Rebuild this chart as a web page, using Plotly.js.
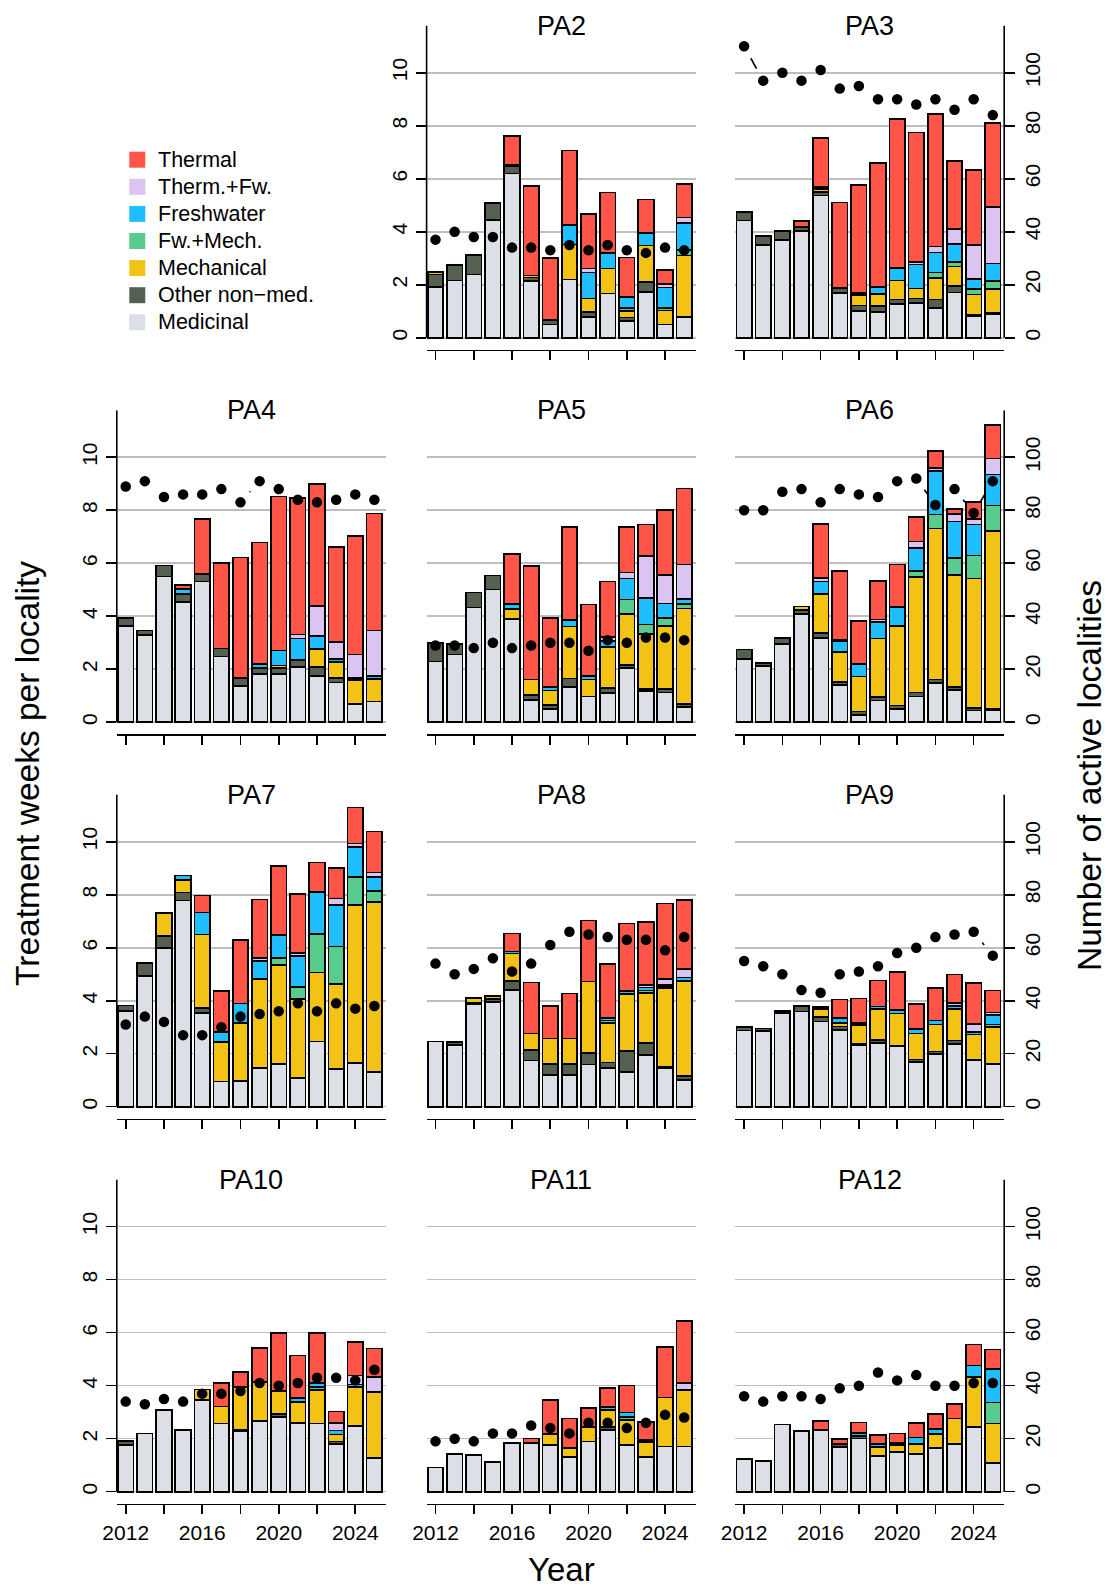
<!DOCTYPE html>
<html>
<head>
<meta charset="utf-8">
<script src="https://cdn.plot.ly/plotly-3.0.1.min.js"></script>
<style>
  html, body { margin: 0; padding: 0; background: #fff; }
  #chart { width: 1109px; height: 1587px; }
</style>
</head>
<body>
<div id="chart"></div>
<script>
// ---- data -------------------------------------------------------------
const years = [2012, 2013, 2014, 2015, 2016, 2017, 2018, 2019, 2020, 2021, 2022, 2023, 2024, 2025];
const panelNames = ["PA2", "PA3", "PA4", "PA5", "PA6", "PA7", "PA8", "PA9", "PA10", "PA11", "PA12"];

// stack order, bottom to top
const categories = ["Medicinal", "Other non\u2212med.", "Mechanical", "Fw.+Mech.", "Freshwater", "Therm.+Fw.", "Thermal"];
const categoryColors = ["#dcdfe6", "#566050", "#f2c315", "#57cc8c", "#1fbeff", "#dcc4f2", "#ff5448"];

// treatment weeks per locality, one row per production area (PA2 ... PA12)
const medicinal = [
  [1.92, 2.16, 2.39, 4.44, 6.20, 2.15, 0.50, 2.20, 0.77, 1.67, 0.64, 1.72, 0.50, 0.77],
  [4.42, 3.51, 3.70, 4.03, 5.37, 1.69, 1.02, 0.96, 1.27, 1.31, 1.11, 1.71, 0.82, 0.89],
  [3.64, 3.30, 5.50, 4.55, 5.31, 2.48, 1.36, 1.81, 1.81, 2.10, 1.76, 1.50, 0.69, 0.78],
  [2.30, 2.56, 4.33, 5.01, 3.89, 0.84, 0.50, 1.32, 0.97, 1.10, 2.05, 1.17, 1.12, 0.57],
  [2.38, 2.13, 2.96, 4.09, 3.17, 1.41, 0.28, 0.82, 0.50, 0.97, 1.47, 1.22, 0.44, 0.47],
  [3.62, 4.92, 5.99, 7.78, 3.53, 0.95, 0.98, 1.45, 1.61, 1.07, 2.46, 1.42, 1.64, 1.30],
  [2.46, 2.33, 3.87, 3.95, 4.41, 1.74, 1.20, 1.20, 1.59, 1.45, 1.31, 1.95, 1.45, 1.02],
  [2.88, 2.85, 3.53, 3.59, 3.22, 2.89, 2.31, 2.40, 2.30, 1.68, 1.98, 2.36, 1.77, 1.60],
  [1.76, 2.20, 3.08, 2.33, 3.46, 2.57, 2.29, 2.68, 2.82, 2.59, 2.57, 1.79, 2.49, 1.27],
  [0.91, 1.42, 1.38, 1.11, 1.85, 1.85, 1.77, 1.31, 1.89, 2.33, 1.76, 1.32, 1.71, 1.71],
  [1.23, 1.17, 2.54, 2.29, 2.33, 1.70, 2.01, 1.35, 1.51, 1.41, 1.64, 1.80, 2.45, 1.07]
];
const otherNonMed = [
  [0.47, 0.59, 0.73, 0.63, 0.28, 0.12, 0.16, 0, 0.19, 0, 0.12, 0.38, 0, 0],
  [0.33, 0.33, 0.33, 0.15, 0.12, 0.18, 0.20, 0.23, 0.17, 0.17, 0.33, 0.24, 0.04, 0.03],
  [0.30, 0.16, 0.42, 0.30, 0.28, 0.31, 0.30, 0.25, 0.23, 0.24, 0.32, 0.18, 0, 0],
  [0.70, 0.40, 0.57, 0.53, 0, 0.20, 0.15, 0.33, 0, 0.20, 0.10, 0.10, 0.14, 0.13],
  [0.37, 0.10, 0.21, 0.15, 0.20, 0.12, 0.13, 0.14, 0.13, 0.15, 0.14, 0.12, 0.10, 0.05],
  [0.20, 0.50, 0.44, 0.30, 0.20, 0, 0, 0, 0, 0, 0, 0, 0, 0],
  [0, 0.12, 0.05, 0.12, 0.33, 0.40, 0.40, 0.40, 0.44, 0.22, 0.79, 0.45, 0.06, 0.13],
  [0.12, 0.10, 0.08, 0.20, 0.17, 0.14, 0.05, 0.12, 0, 0.10, 0.10, 0.14, 0, 0],
  [0.15, 0, 0, 0, 0, 0, 0.05, 0, 0.10, 0, 0, 0.10, 0, 0],
  [0, 0, 0, 0, 0, 0, 0, 0, 0, 0.10, 0, 0, 0, 0],
  [0, 0, 0, 0, 0, 0.10, 0.08, 0, 0, 0, 0, 0, 0, 0]
];
const mechanical = [
  [0.08, 0, 0, 0, 0.06, 0.08, 0, 1.32, 0.52, 0.94, 0.25, 1.38, 0.53, 2.33],
  [0, 0, 0, 0, 0.13, 0, 0.38, 0.47, 0.72, 0.38, 0.80, 0.74, 0.77, 0.93],
  [0, 0, 0, 0, 0, 0, 0, 0, 0.10, 0, 0.68, 0.60, 0.91, 0.86],
  [0, 0, 0, 0, 0.38, 0.57, 0.55, 1.96, 0.65, 1.53, 1.95, 2.05, 2.37, 3.60],
  [0, 0, 0, 0.13, 1.46, 1.11, 1.32, 2.20, 3.00, 4.37, 5.70, 4.23, 4.89, 6.71],
  [0, 0, 0.88, 0.47, 2.77, 1.50, 2.18, 3.38, 3.74, 3.00, 2.60, 3.20, 5.96, 6.42],
  [0, 0, 0.18, 0.10, 1.04, 0.62, 0.97, 0.97, 2.70, 1.50, 2.14, 1.90, 2.95, 3.60],
  [0, 0, 0, 0, 0.30, 0.12, 0.72, 1.18, 1.22, 0.98, 1.02, 1.18, 0.96, 1.40],
  [0, 0, 0, 0, 0.40, 0.64, 1.60, 1.45, 0.88, 0.80, 1.27, 0.27, 1.47, 2.50],
  [0, 0, 0, 0, 0, 0, 0.40, 0.35, 0.55, 0.65, 0.94, 0.55, 1.84, 2.14],
  [0, 0, 0, 0, 0, 0, 0, 0.34, 0.24, 0.40, 0.54, 0.96, 1.87, 1.50]
];
const fwMech = [
  [0, 0, 0, 0, 0, 0, 0, 0, 0, 0, 0.10, 0, 0.09, 0.21],
  [0, 0, 0, 0, 0, 0, 0.03, 0, 0, 0, 0.22, 0.17, 0.20, 0.28],
  [0, 0, 0, 0, 0, 0, 0, 0, 0, 0, 0, 0, 0, 0],
  [0, 0, 0, 0, 0, 0, 0, 0, 0, 0, 0.53, 0.37, 0.30, 0.16],
  [0, 0, 0, 0, 0, 0, 0, 0, 0, 0.23, 0.53, 0.64, 0.87, 0.95],
  [0, 0, 0, 0, 0, 0, 0, 0, 0.25, 0.44, 1.45, 1.43, 1.08, 0.42],
  [0, 0, 0, 0, 0, 0, 0, 0, 0, 0.08, 0, 0.08, 0.05, 0],
  [0, 0, 0, 0, 0, 0, 0, 0, 0, 0, 0, 0, 0, 0.10],
  [0, 0, 0, 0, 0, 0, 0, 0, 0, 0, 0.10, 0, 0, 0],
  [0, 0, 0, 0, 0, 0, 0, 0, 0, 0, 0.12, 0, 0, 0],
  [0, 0, 0, 0, 0, 0, 0, 0, 0, 0, 0, 0, 0, 0.80]
];
const freshwater = [
  [0, 0, 0, 0, 0, 0, 0, 0.72, 0.98, 0.59, 0.42, 0.48, 0.77, 1.02],
  [0, 0, 0, 0, 0, 0, 0.05, 0.25, 0.47, 0.90, 0.76, 0.68, 0.38, 0.67],
  [0, 0, 0, 0.18, 0, 0, 0, 0.15, 0.57, 0.82, 0.50, 0.12, 0.08, 0.12],
  [0, 0, 0, 0, 0.20, 0, 0.12, 0.24, 0.13, 0.25, 0.80, 1.01, 0.55, 0.19],
  [0, 0, 0, 0, 0.48, 0.43, 0.48, 0.62, 0.72, 0.87, 1.64, 1.37, 1.16, 1.17],
  [0, 0, 0, 0.18, 0.83, 0.38, 0.73, 0.67, 0.88, 1.17, 1.60, 1.57, 1.12, 0.54],
  [0, 0, 0, 0, 0.08, 0, 0, 0, 0, 0.10, 0.12, 0.12, 0.07, 0.12],
  [0, 0, 0, 0, 0, 0.20, 0.08, 0.08, 0.12, 0.18, 0.15, 0.12, 0.10, 0.35],
  [0, 0, 0, 0, 0, 0, 0, 0, 0, 0.15, 0.16, 0.15, 0.08, 0],
  [0, 0, 0, 0, 0, 0, 0, 0, 0, 0.12, 0.17, 0.08, 0, 0],
  [0, 0, 0, 0, 0, 0, 0.12, 0.12, 0.10, 0.24, 0.18, 0, 0.44, 1.27]
];
const thermFw = [
  [0, 0, 0, 0, 0, 0, 0, 0, 0.15, 0, 0, 0, 0.13, 0.21],
  [0, 0, 0, 0, 0.06, 0, 0, 0, 0, 0.10, 0.22, 0.55, 1.30, 2.12],
  [0, 0, 0, 0, 0, 0, 0, 0, 0, 0.15, 1.12, 0.62, 0.88, 1.70],
  [0, 0, 0, 0, 0, 0, 0, 0, 0, 0.14, 0.22, 1.58, 1.07, 1.30],
  [0, 0, 0, 0, 0.13, 0.05, 0, 0.10, 0, 0.23, 0.12, 0.27, 0.22, 0.60],
  [0, 0, 0, 0, 0, 0, 0, 0.10, 0, 0.13, 0, 0.24, 0.13, 0.16],
  [0, 0, 0, 0, 0, 0, 0, 0, 0, 0, 0, 0.10, 0.25, 0.33],
  [0, 0, 0, 0, 0, 0, 0, 0, 0, 0, 0, 0.12, 0.29, 0.10],
  [0, 0, 0, 0, 0, 0, 0, 0, 0, 0, 0, 0.29, 0.35, 0.56],
  [0, 0, 0, 0, 0, 0, 0, 0, 0, 0, 0, 0, 0, 0.25],
  [0, 0, 0, 0, 0, 0, 0, 0, 0, 0, 0, 0, 0, 0]
];
const thermal = [
  [0, 0, 0, 0, 1.07, 3.37, 2.34, 2.82, 2.05, 2.28, 1.50, 1.25, 0.54, 1.27],
  [0, 0, 0, 0.22, 1.85, 3.23, 4.08, 4.69, 5.62, 4.88, 4.99, 2.57, 2.81, 3.17],
  [0, 0, 0, 0.15, 2.08, 3.21, 4.56, 4.57, 5.81, 5.16, 4.60, 3.60, 4.47, 4.42],
  [0, 0, 0, 0, 1.89, 4.28, 2.61, 3.51, 2.70, 2.09, 1.71, 1.18, 2.47, 2.87],
  [0, 0, 0, 0, 2.05, 2.58, 1.60, 1.45, 1.61, 0.94, 0.64, 0.20, 0.64, 1.28],
  [0, 0, 0, 0, 0.64, 1.53, 2.40, 2.22, 2.60, 2.21, 1.11, 1.15, 1.36, 1.54],
  [0, 0, 0, 0, 0.68, 1.93, 1.24, 1.70, 2.30, 2.04, 2.55, 2.36, 2.84, 2.61],
  [0, 0, 0, 0, 0.08, 0.69, 0.92, 0.98, 1.45, 0.93, 1.22, 1.07, 1.55, 0.83],
  [0, 0, 0, 0, 0, 0.88, 0.58, 1.30, 2.18, 1.60, 1.90, 0.43, 1.27, 1.07],
  [0, 0, 0, 0, 0, 0.16, 1.28, 1.10, 0.72, 0.72, 1.02, 0.69, 1.92, 2.34],
  [0, 0, 0, 0, 0.35, 0.20, 0.40, 0.33, 0.35, 0.55, 0.58, 0.55, 0.80, 0.73]
];
// number of active localities (right axis)
const localities = [
  [37, 40, 38, 38, 34, 34, 33, 35, 33, 35, 33, 32, 34, 33],
  [110, 97, 100, 97, 101, 94, 95, 90, 90, 88, 90, 86, 90, 84],
  [89, 91, 85, 86, 86, 88, 83, 91, 88, 84, 83, 84, 86, 84],
  [29, 29, 28, 30, 28, 29, 30, 30, 27, 31, 30, 32, 32, 31],
  [80, 80, 87, 88, 83, 88, 86, 85, 91, 92, 82, 88, 79, 91],
  [31, 34, 32, 27, 27, 30, 34, 35, 36, 39, 36, 39, 37, 38],
  [54, 50, 52, 56, 51, 54, 61, 66, 65, 64, 63, 63, 59, 64],
  [55, 53, 50, 44, 43, 50, 51, 53, 58, 60, 64, 65, 66, 57],
  [34, 33, 35, 34, 37, 37, 38, 41, 40, 41, 43, 43, 42, 46],
  [19, 20, 19, 22, 22, 25, 24, 22, 26, 26, 24, 26, 29, 28],
  [36, 34, 36, 36, 35, 39, 40, 45, 42, 44, 40, 40, 41, 41]
];
const seriesByCategory = [medicinal, otherNonMed, mechanical, fwMech, freshwater, thermFw, thermal];

const weekTicks = [0, 2, 4, 6, 8, 10];
const localityTicks = [0, 20, 40, 60, 80, 100];
const yearTicks = [2012, 2014, 2016, 2018, 2020, 2022, 2024];
const yearTickLabels = ["2012", "", "2016", "", "2020", "", "2024"];

// ---- page geometry (pixels) -------------------------------------------
const W = 1109, H = 1587;
const colLeft = [116.8, 426.6, 735.2];
const plotW = 269;
const rowBase = [337.7, 722.3, 1106.7, 1491.7];   // pixel row of value 0
const unitPx = 26.5;                               // pixels per treatment week
const yTop = 11.78, yBot = -0.453;
const slotPx = 19.13;                              // pixels per year
const xLo = 2012 - 8.9 / slotPx;
const xHi = xLo + plotW / slotPx;
const LOC_SCALE = 10;                              // right axis = 10 x left axis
const FONT = "Liberation Sans, Arial, Helvetica, sans-serif";
const GAP = 13.8;                                  // gap left around points on the connecting lines

const px = v => v / W;
const py = v => 1 - v / H;

const traces = [];
const layout = {
  width: W, height: H,
  margin: { l: 0, r: 0, t: 0, b: 0 },
  paper_bgcolor: "#ffffff",
  plot_bgcolor: "rgba(0,0,0,0)",
  barmode: "stack",
  bargap: 0.19,
  showlegend: false,
  hovermode: false,
  font: { family: FONT, color: "#000000", size: 21 },
  shapes: [],
  annotations: []
};

// lines between points, shortened near each point
function gappedLine(xs, ys) {
  const gx = [], gy = [];
  for (let i = 0; i < xs.length - 1; i++) {
    const dx = xs[i + 1] - xs[i], dy = ys[i + 1] - ys[i];
    const d = Math.hypot(dx * slotPx, dy * unitPx / LOC_SCALE);
    if (d > 2 * GAP) {
      const f = GAP / d;
      gx.push(xs[i] + dx * f, xs[i + 1] - dx * f, null);
      gy.push(ys[i] + dy * f, ys[i + 1] - dy * f, null);
    }
  }
  return { gx, gy };
}

panelNames.forEach((name, p) => {
  const cell = p + 1;                 // first cell of the grid holds the legend
  const row = Math.floor(cell / 3), col = cell % 3;
  const n = p + 1, n2 = p + 12;
  const xa = n === 1 ? "x" : "x" + n;
  const ya = n === 1 ? "y" : "y" + n;
  const ya2 = "y" + n2;
  const left = colLeft[col];
  const topPx = rowBase[row] - yTop * unitPx;
  const botPx = rowBase[row] - yBot * unitPx;
  const leftAxis = col === 0 || p === 0;
  const rightAxis = col === 2;
  const bottomRow = row === 3;

  layout["xaxis" + (n === 1 ? "" : n)] = {
    domain: [px(left), px(left + plotW)],
    anchor: ya,
    range: [xLo, xHi],
    showgrid: false, zeroline: false,
    showline: true, linecolor: "#000000", linewidth: 1.6,
    ticks: "outside", ticklen: 9, tickwidth: 1.6, tickcolor: "#000000",
    tickmode: "array", tickvals: yearTicks,
    ticktext: bottomRow ? yearTickLabels : yearTicks.map(() => ""),
    showticklabels: bottomRow,
    tickfont: { family: FONT, size: 21, color: "#000000" },
    fixedrange: true
  };
  layout["yaxis" + (n === 1 ? "" : n)] = {
    domain: [py(botPx), py(topPx)],
    anchor: xa,
    range: [yBot, yTop],
    showgrid: true, gridcolor: "#bebebe", gridwidth: 1.6,
    zeroline: false, showline: false,
    tickmode: "array", tickvals: weekTicks,
    ticks: leftAxis ? "outside" : "", ticklen: 10, tickwidth: 1.6, tickcolor: "#000000",
    showticklabels: leftAxis,
    tickangle: -90,
    tickfont: { family: FONT, size: 21, color: "#000000" },
    fixedrange: true
  };
  layout["yaxis" + n2] = {
    overlaying: ya,
    anchor: xa,
    side: "right",
    range: [yBot * LOC_SCALE, yTop * LOC_SCALE],
    showgrid: false, zeroline: false, showline: false,
    tickmode: "array", tickvals: localityTicks,
    ticks: rightAxis ? "outside" : "", ticklen: 10, tickwidth: 1.6, tickcolor: "#000000",
    showticklabels: rightAxis,
    tickangle: -90,
    tickfont: { family: FONT, size: 21, color: "#000000" },
    fixedrange: true
  };

  // stacked bars
  seriesByCategory.forEach((series, c) => {
    traces.push({
      type: "bar",
      x: years,
      y: series[p].map(v => (v > 0 ? v : null)),
      xaxis: xa, yaxis: ya,
      marker: { color: categoryColors[c], line: { color: "#000000", width: 1.7 } },
      name: categories[c]
    });
  });

  // active localities: points with gapped connecting lines
  const seg = gappedLine(years, localities[p]);
  traces.push({
    type: "scatter", mode: "lines",
    x: seg.gx, y: seg.gy, xaxis: xa, yaxis: ya2,
    line: { color: "#000000", width: 1.6 }, connectgaps: false
  });
  traces.push({
    type: "scatter", mode: "markers",
    x: years, y: localities[p], xaxis: xa, yaxis: ya2,
    marker: { color: "#000000", size: 10.5 }
  });

  // axis lines running from 0 to the top of the panel
  if (leftAxis) {
    layout.shapes.push({
      type: "line", xref: xa + " domain", yref: ya,
      x0: 0, x1: 0, y0: 0, y1: yTop,
      line: { color: "#000000", width: 1.6 }
    });
  }
  if (rightAxis) {
    layout.shapes.push({
      type: "line", xref: xa + " domain", yref: ya,
      x0: 1, x1: 1, y0: 0, y1: yTop,
      line: { color: "#000000", width: 1.6 }
    });
  }

  // panel title
  layout.annotations.push({
    xref: "paper", yref: "paper",
    x: px(left + plotW / 2), y: py(topPx),
    xanchor: "center", yanchor: "middle",
    text: name, showarrow: false,
    font: { family: FONT, size: 27, color: "#000000" }
  });
});

// legend (top-left cell), listed top to bottom
const legendTop = 159.7, legendStep = 27.1;
categories.slice().reverse().forEach((label, i) => {
  const c = categories.length - 1 - i;
  const cy = legendTop + i * legendStep;
  layout.shapes.push({
    type: "rect", xref: "paper", yref: "paper",
    x0: px(129.3), x1: px(145.3), y0: py(cy + 8), y1: py(cy - 8),
    fillcolor: categoryColors[c], line: { width: 0 }
  });
  layout.annotations.push({
    xref: "paper", yref: "paper",
    x: px(155.5), y: py(cy),
    xanchor: "left", yanchor: "middle",
    text: label, showarrow: false,
    font: { family: FONT, size: 21.5, color: "#000000" }
  });
});

// outer axis titles
layout.annotations.push({
  xref: "paper", yref: "paper", x: px(27), y: py(774),
  xanchor: "center", yanchor: "middle", textangle: -90,
  text: "Treatment weeks per locality", showarrow: false,
  font: { family: FONT, size: 33.5, color: "#000000" }
});
layout.annotations.push({
  xref: "paper", yref: "paper", x: px(1090), y: py(776),
  xanchor: "center", yanchor: "middle", textangle: -90,
  text: "Number of active localities", showarrow: false,
  font: { family: FONT, size: 33.5, color: "#000000" }
});
layout.annotations.push({
  xref: "paper", yref: "paper", x: px(561), y: py(1569),
  xanchor: "center", yanchor: "middle",
  text: "Year", showarrow: false,
  font: { family: FONT, size: 33, color: "#000000" }
});

Plotly.newPlot("chart", traces, layout, { displayModeBar: false, staticPlot: true });
</script>
</body>
</html>
